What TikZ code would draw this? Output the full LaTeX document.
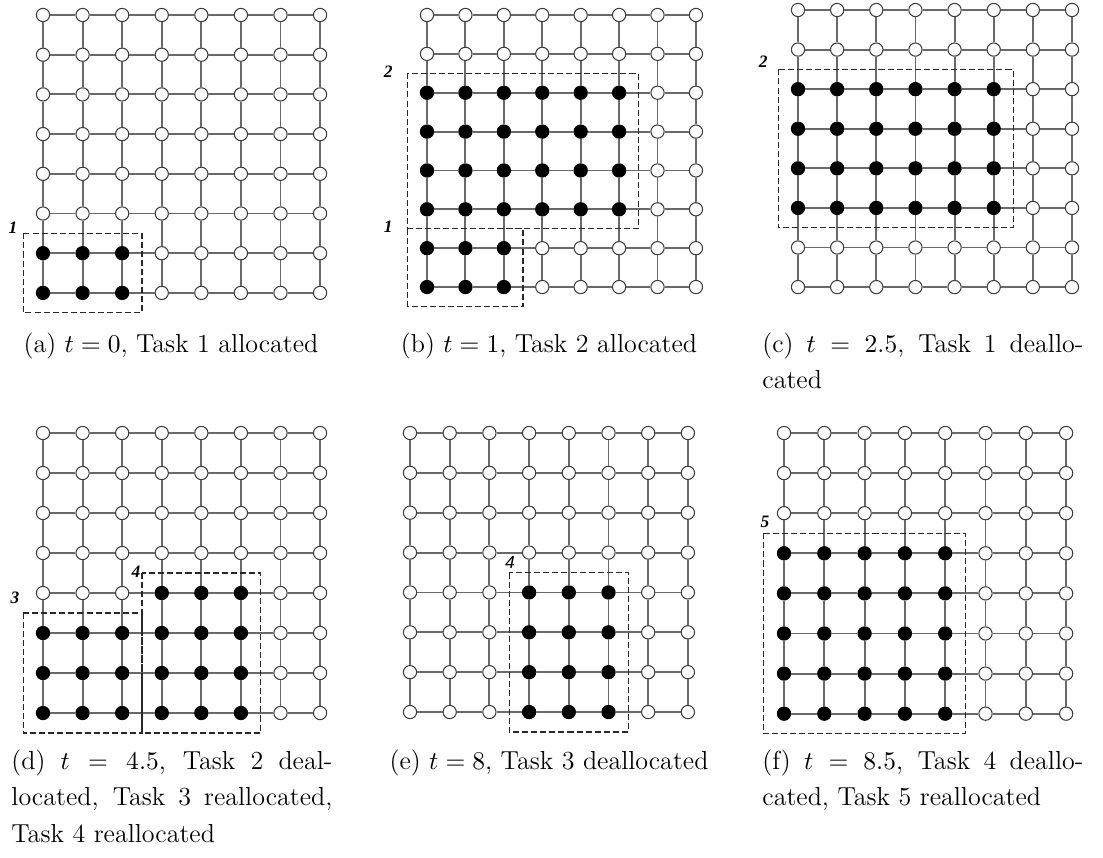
\documentclass[tikz,border=0pt]{standalone}
\usepackage{fontspec}
\newfontfamily\labserif{Liberation Serif}
\newfontfamily\labsans{Liberation Sans}
\definecolor{linkgray}{RGB}{105,105,105}
\definecolor{rimgray}{RGB}{60,60,60}
\definecolor{boxgray}{RGB}{40,40,40}
\tikzset{
  freenode/.style={circle,draw=rimgray,fill=white,line width=0.45pt,
    minimum size=5.7pt,inner sep=0pt},
  busynode/.style={circle,draw=black,fill=black,line width=0.45pt,
    minimum size=5.7pt,inner sep=0pt},
  link/.style={draw=linkgray,line width=0.8pt},
  taskbox/.style={draw=boxgray,line width=0.5pt,
    dash pattern=on 2.6pt off 1.3pt},
  tasklab/.style={font=\labserif\fontsize{7.5}{8}\selectfont\bfseries\itshape,
    inner sep=0pt},
  subcap/.style={font=\fontsize{11.2}{15.9}\selectfont,inner sep=0pt,
    anchor=base},
  subcapwrap/.style={subcap,text width=138pt,align=justify,anchor=base west}
}
% 8x8 mesh, #2 = test for an allocated processor
\newcommand{\meshpanel}[2]{%
  \foreach \i in {0,...,7}
    \foreach \j in {0,...,7} {
      \pgfmathtruncatemacro{\busy}{#2}
      \ifnum\busy=1
        \node[busynode] (#1-\i-\j) at (\i,\j) {};
      \else
        \node[freenode] (#1-\i-\j) at (\i,\j) {};
      \fi
    }
  \foreach \i in {0,...,7}
    \foreach \j [count=\k from 1] in {0,...,6} {
      \draw[link] (#1-\i-\j) -- (#1-\i-\k);
      \draw[link] (#1-\j-\i) -- (#1-\k-\i);
    }
}

\begin{document}
\begin{tikzpicture}[x=0.43pt,y=-0.43pt]
  \useasboundingbox (0,0) rectangle (1103,857);

  % (a)
  \begin{scope}[shift={(43,15)},x=17.02pt,y=-17.07pt]
    \meshpanel{a}{\i<=2 && \j>=6}
    \draw[taskbox] (-0.5,5.5) rectangle (2.5,7.5);
    \node[tasklab] (a-t1) at (-0.76,5.37) {1};
  \end{scope}

  % (b)
  \begin{scope}[shift={(427,15)},x=16.52pt,y=-16.71pt]
    \meshpanel{b}{(\i<=5 && \j>=2 && \j<=5) || (\i<=2 && \j>=6)}
    \draw[taskbox] (-0.5,1.5) rectangle (5.5,5.5);
    \draw[taskbox] (-0.5,5.5) rectangle (2.5,7.5);
    \node[tasklab] (b-t2) at (-1.01,1.47) {2};
    \node[tasklab] (b-t1) at (-1.01,5.46) {1};
  \end{scope}

  % (c)
  \begin{scope}[shift={(798,10)},x=16.83pt,y=-17.02pt]
    \meshpanel{c}{\i<=5 && \j>=2 && \j<=5}
    \draw[taskbox] (-0.5,1.5) rectangle (5.5,5.5);
    \node[tasklab] (c-t2) at (-0.89,1.31) {2};
  \end{scope}

  % (d)
  \begin{scope}[shift={(43,433)},x=17.02pt,y=-17.2pt]
    \meshpanel{d}{(\i<=2 && \j>=5) || (\i>=3 && \i<=5 && \j>=4)}
    \draw[taskbox] (-0.5,4.5) rectangle (2.5,7.5);
    \draw[taskbox] (2.5,3.5) rectangle (5.5,7.5);
    \node[tasklab] (d-t3) at (-0.71,4.13) {3};
    \node[tasklab] (d-t4) at (2.35,3.48) {4};
  \end{scope}

  % (e)
  \begin{scope}[shift={(410,433)},x=17.07pt,y=-17.14pt]
    \meshpanel{e}{\i>=3 && \i<=5 && \j>=4}
    \draw[taskbox] (2.5,3.5) rectangle (5.5,7.5);
    \node[tasklab,font=\labsans\fontsize{7.5}{8}\selectfont\itshape]
      (e-t4) at (2.52,3.24) {4};
  \end{scope}

  % (f)
  \begin{scope}[shift={(784,433)},x=17.33pt,y=-17.24pt]
    \meshpanel{f}{\i<=4 && \j>=3}
    \draw[taskbox] (-0.5,2.5) rectangle (4.5,7.5);
    \node[tasklab] (f-t5) at (-0.47,2.22) {5};
  \end{scope}

  % captions
  \node[subcap] (cap-a) at (171,352) {(a) $t=0$, Task 1 allocated};
  \node[subcap] (cap-b) at (549,352) {(b) $t=1$, Task 2 allocated};
  \node[subcapwrap] (cap-c) at (762,352)
    {(c) $t = 2.5$, Task 1 deallo-\linebreak cated};
  \node[subcapwrap] (cap-d) at (11,769)
    {(d) $t = 4.5$, Task 2 deal-\linebreak located, Task 3 reallocated,\linebreak Task 4 reallocated};
  \node[subcap] (cap-e) at (549,769) {(e) $t=8$, Task 3 deallocated};
  \node[subcapwrap] (cap-f) at (762,769)
    {(f) $t = 8.5$, Task 4 deallo-\linebreak cated, Task 5 reallocated};
\end{tikzpicture}
\end{document}
